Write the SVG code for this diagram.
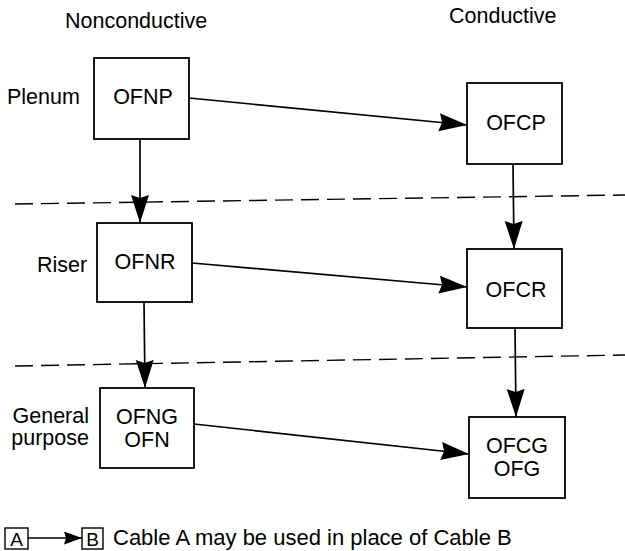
<svg xmlns="http://www.w3.org/2000/svg" width="625" height="551" viewBox="0 0 625 551">
<style>
text{font-family:"Liberation Sans",Arial,sans-serif;fill:#000}
.lbl{font-size:21.5px}
.box{fill:#fff;stroke:#000;stroke-width:1.8}
.conn{fill:none;stroke:#000;stroke-width:1.7}
.dash{fill:none;stroke:#000;stroke-width:1.4;stroke-dasharray:18 8}
</style>
<defs>
<marker id="ah" markerUnits="userSpaceOnUse" markerWidth="30" markerHeight="20" refX="28" refY="9" orient="auto">
<path d="M0,0 L28,9 L0,18 L3,9 z" fill="#000"/>
</marker>
<marker id="ahs" markerUnits="userSpaceOnUse" markerWidth="20" markerHeight="14" refX="18" refY="6.5" orient="auto">
<path d="M0,0 L18,6.5 L0,13 L2,6.5 z" fill="#000"/>
</marker>
</defs>
<rect width="625" height="551" fill="#fff"/>
<g id="headers">
<text class="lbl" x="65" y="28">Nonconductive</text>
<text class="lbl" x="449" y="23">Conductive</text>
</g>
<g id="rowlabels">
<text class="lbl" x="7" y="104">Plenum</text>
<text class="lbl" x="37" y="272">Riser</text>
<text class="lbl" x="89" y="423" text-anchor="end">General</text>
<text class="lbl" x="89" y="445" text-anchor="end">purpose</text>
</g>
<g id="dividers">
<line class="dash" x1="15" y1="204" x2="625" y2="195"/>
<line class="dash" x1="15" y1="366" x2="625" y2="355"/>
</g>
<g id="connectors">
<line class="conn" x1="189" y1="98" x2="467" y2="125" marker-end="url(#ah)"/>
<line class="conn" x1="192" y1="263" x2="467" y2="287" marker-end="url(#ah)"/>
<line class="conn" x1="194" y1="424" x2="469" y2="454" marker-end="url(#ah)"/>
<line class="conn" x1="140" y1="139" x2="140" y2="223" marker-end="url(#ah)"/>
<line class="conn" x1="144" y1="302" x2="145" y2="388" marker-end="url(#ah)"/>
<line class="conn" x1="513" y1="164" x2="514" y2="249" marker-end="url(#ah)"/>
<line class="conn" x1="515" y1="328" x2="516" y2="417" marker-end="url(#ah)"/>
</g>
<g id="OFNP">
<rect class="box" x="94" y="58" width="95" height="81"/>
<text class="lbl" x="143" y="104" text-anchor="middle">OFNP</text>
</g>
<g id="OFCP">
<rect class="box" x="467" y="83" width="95" height="81"/>
<text class="lbl" x="516" y="130" text-anchor="middle">OFCP</text>
</g>
<g id="OFNR">
<rect class="box" x="97" y="223" width="95" height="79"/>
<text class="lbl" x="145" y="269" text-anchor="middle">OFNR</text>
</g>
<g id="OFCR">
<rect class="box" x="467" y="249" width="95" height="79"/>
<text class="lbl" x="516" y="297" text-anchor="middle">OFCR</text>
</g>
<g id="OFNG">
<rect class="box" x="100" y="388" width="94" height="80"/>
<text class="lbl" x="147" y="424" text-anchor="middle">OFNG</text>
<text class="lbl" x="147" y="447" text-anchor="middle">OFN</text>
</g>
<g id="OFCG">
<rect class="box" x="469" y="417" width="96" height="81"/>
<text class="lbl" x="517" y="453" text-anchor="middle">OFCG</text>
<text class="lbl" x="517" y="476" text-anchor="middle">OFG</text>
</g>
<g id="legend">
<rect x="5" y="528" width="23" height="21" fill="#fff" stroke="#000" stroke-width="1.4"/>
<text x="16.5" y="546" font-size="19" text-anchor="middle">A</text>
<line class="conn" x1="28" y1="538" x2="82" y2="538" marker-end="url(#ahs)"/>
<rect x="82" y="528" width="21" height="21" fill="#fff" stroke="#000" stroke-width="1.4"/>
<text x="92.5" y="546" font-size="19" text-anchor="middle">B</text>
<text x="113" y="545" font-size="22">Cable A may be used in place of Cable B</text>
</g>
</svg>
